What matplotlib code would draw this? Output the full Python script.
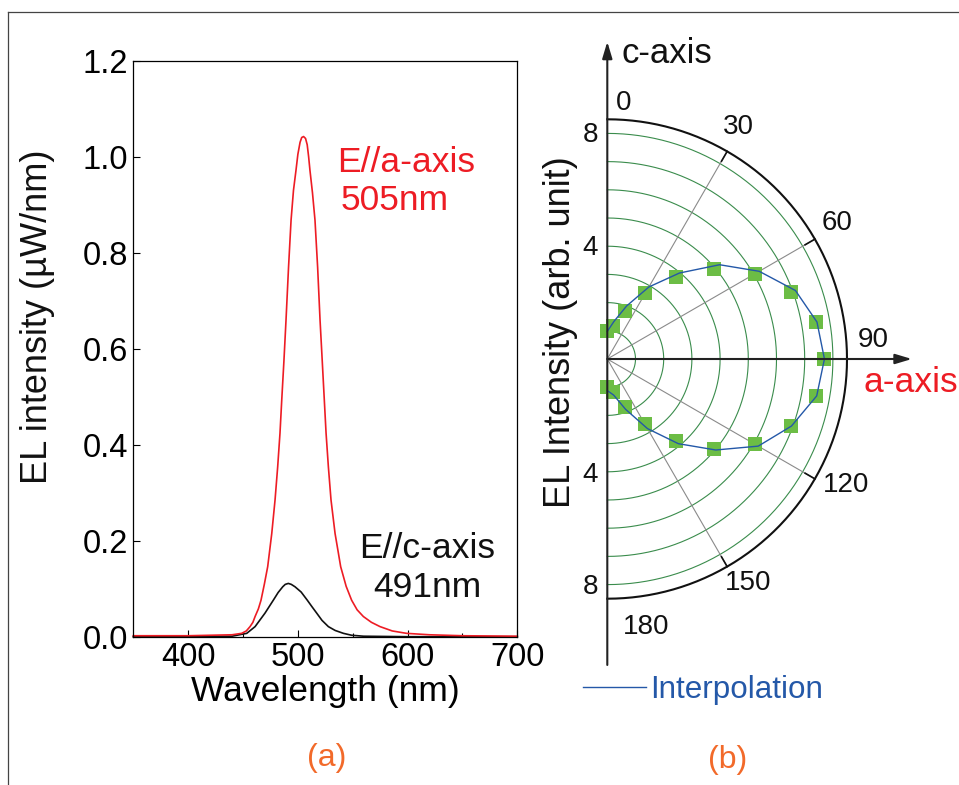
import matplotlib

matplotlib.use("Agg")
import matplotlib.pyplot as plt
import numpy as np
from matplotlib.lines import Line2D

plt.rcParams['font.family'] = ['Liberation Sans', 'DejaVu Sans']

# (a) EL spectra
wl_a_axis = [350, 400, 440, 448.8, 453.0, 456.4, 459.0, 461.0, 464.0, 466.4, 469.5,
             472.5, 476.2, 479.2, 481.6, 483.7, 485.3, 487.3, 489.2, 491.5, 493.8,
             496.0, 498.3, 500.0, 502.0, 503.5, 505.2, 507.0, 508.5, 509.8, 511.0,
             513.3, 515.6, 518.0, 520.2, 522.2, 524.1, 525.7, 527.8, 530.2, 533.9,
             536.5, 539.0, 544.0, 549.0, 554.0, 559.7, 567.0, 574.9, 586.0, 599.0,
             620.0, 650, 700]
el_a_axis = [0.002, 0.002, 0.004, 0.007, 0.012, 0.021, 0.030, 0.042, 0.058, 0.076, 0.110,
             0.146, 0.215, 0.285, 0.354, 0.424, 0.493, 0.575, 0.660, 0.770, 0.868,
             0.930, 0.972, 1.005, 1.030, 1.040, 1.042, 1.038, 1.025, 1.000, 0.972,
             0.925, 0.868, 0.770, 0.660, 0.575, 0.493, 0.424, 0.354, 0.285, 0.215,
             0.180, 0.146, 0.105, 0.076, 0.056, 0.042, 0.030, 0.021, 0.012, 0.007,
             0.004, 0.002, 0.001]
wl_c_axis = [350, 440, 453.4, 461.0, 470.0, 477.6, 482.0, 486.2, 488.5, 491.3, 494.0,
             497.4, 503.0, 508.6, 513.0, 517.2, 522.0, 527.8, 534.0, 541.5, 549.0,
             560, 600, 700]
el_c_axis = [0.0, 0.001, 0.007, 0.021, 0.049, 0.076, 0.092, 0.104, 0.109, 0.111, 0.109,
             0.104, 0.093, 0.076, 0.062, 0.049, 0.034, 0.021, 0.013, 0.007, 0.003,
             0.001, 0.0, 0.0]

x_ticks = [400, 500, 600, 700]
x_minor = [450, 550, 650]
y_ticks = [0.0, 0.2, 0.4, 0.6, 0.8, 1.0, 1.2]

# (b) polar dependence of EL intensity
angles = [0, 10, 20, 30, 40, 50, 60, 70, 80, 90,
          100, 110, 120, 130, 140, 150, 160, 170, 180]
el_points = [1.0, 1.2, 1.8, 2.7, 3.8, 4.95, 6.04, 6.92, 7.5, 7.7,
             7.5, 6.93, 6.04, 4.96, 3.8, 2.68, 1.8, 1.2, 1.0]
el_interp = [0.98, 1.35, 2.0, 2.95, 3.98, 5.2, 6.22, 7.1, 7.55, 7.7,
             7.54, 6.95, 6.18, 5.02, 3.92, 2.85, 1.9, 1.3, 1.12]
ring_radii = [1, 2, 3, 4, 5, 6, 7, 8]
spoke_angles = [30, 60, 120, 150]
angle_labels = ['0', '30', '60', '90', '120', '150', '180']
radial_labels = [4, 8]

RED = '#ed1c24'
ORANGE = '#f26a2a'
GREEN = '#6cbd45'
RING = '#3a8c4c'
BLUE = '#2458a8'

fig = plt.figure(figsize=(9.59, 7.85), dpi=100)
W, H = 959, 785


def px(x, y):
    return x / W, 1 - y / H


# outer frame
fig.add_artist(Line2D([8 / W, 8 / W], [0, 1 - 12 / H], color='#444444', lw=0.9))
fig.add_artist(Line2D([8 / W, 1], [1 - 12 / H, 1 - 12 / H], color='#444444', lw=0.9))

# ---- (a) spectra ----
ax = fig.add_axes([133.3 / W, 1 - 636.7 / H, 384 / W, 576 / H])
ax.plot(wl_c_axis, el_c_axis, color='#111111', lw=1.2, clip_on=False)
ax.plot(wl_a_axis, el_a_axis, color=RED, lw=1.2, clip_on=False)
ax.set_xlim(350, 700)
ax.set_ylim(0, 1.2)
ax.set_xticks(x_ticks)
ax.set_xticks(x_minor, minor=True)
ax.set_yticks(y_ticks)
ax.set_yticklabels([f"{v:.1f}" for v in y_ticks])
ax.tick_params(which='both', direction='in', width=0.8, labelsize=23.5, pad=3.5,
               top=False, right=False)
ax.tick_params(which='major', length=5)
ax.tick_params(which='minor', length=3)
for s in ax.spines.values():
    s.set_linewidth(0.9)
ax.set_xlabel('Wavelength (nm)', fontsize=25.5, labelpad=2)

ax.text(535.7, 0.968, 'E//a-axis', color=RED, fontsize=25.5, ha='left', va='baseline')
ax.text(539.3, 0.889, '505nm', color=RED, fontsize=25.5, ha='left', va='baseline')
ax.text(617.6, 0.164, 'E//c-axis', color='#111111', fontsize=25.5, ha='center', va='baseline')
ax.text(617.6, 0.083, '491nm', color='#111111', fontsize=25.5, ha='center', va='baseline')

fig.text(*px(38, 317), 'EL intensity (\u00b5W/nm)', rotation=90, fontsize=26,
         ha='center', va='center', color='#111111')
fig.text(*px(326.5, 758), '(a)', color=ORANGE, fontsize=23, ha='center', va='center')

# ---- (b) polar plot ----
cx, cy, unit = 607.3, 359.0, 28.2
x0, x1, y0, y1 = 545, 959, 15, 730
axp = fig.add_axes([x0 / W, 1 - y1 / H, (x1 - x0) / W, (y1 - y0) / H])
axp.set_xlim((x0 - cx) / unit, (x1 - cx) / unit)
axp.set_ylim((cy - y1) / unit, (cy - y0) / unit)
axp.axis('off')

th = np.radians(np.linspace(0, 180, 361))
for r in ring_radii:
    axp.plot(r * np.sin(th), r * np.cos(th), color=RING, lw=0.8, zorder=1)
axp.plot(8.5 * np.sin(th), 8.5 * np.cos(th), color='#111111', lw=1.5, zorder=2)
for a in spoke_angles:
    t = np.radians(a)
    axp.plot([0, 8.5 * np.sin(t)], [0, 8.5 * np.cos(t)], color='#8a8a8a', lw=0.8, zorder=1)
    axp.plot([8.1 * np.sin(t), 8.5 * np.sin(t)], [8.1 * np.cos(t), 8.5 * np.cos(t)],
             color='#111111', lw=1.2, zorder=2)

arrow = dict(arrowstyle='-|>,head_length=0.5,head_width=0.15', lw=1.5, color='#222222',
             mutation_scale=20, shrinkA=0, shrinkB=0)
axp.annotate('', xy=(10.8, 0), xytext=(0, 0), arrowprops=arrow, zorder=4)
axp.annotate('', xy=(0, 11.25), xytext=(0, -10.85), arrowprops=arrow, zorder=4)

t_pts = np.radians(angles)
axp.plot(np.array(el_points) * np.sin(t_pts), np.array(el_points) * np.cos(t_pts), 's',
         color=GREEN, ms=9.6, mew=0, zorder=3)
axp.plot(np.array(el_interp) * np.sin(t_pts), np.array(el_interp) * np.cos(t_pts),
         color=BLUE, lw=1.0, zorder=3.5)

angle_label_xy = [(0.57, 9.08), (4.66, 8.24), (8.16, 4.82), (9.44, 0.67),
                  (8.46, -4.47), (4.99, -7.93), (1.37, -9.5)]
for lab, (lx, ly) in zip(angle_labels, angle_label_xy):
    axp.text(lx, ly, lab, fontsize=20, ha='center', va='center', color='#111111')
for r in radial_labels:
    axp.text(-0.6, r - 0.05, str(r), fontsize=20, ha='center', va='center', color='#111111')
    axp.text(-0.6, -r - 0.1, str(r), fontsize=20, ha='center', va='center', color='#111111')

axp.text(0.51, 10.51, 'c-axis', fontsize=25, ha='left', va='baseline', color='#111111')
axp.text(9.07, -1.16, 'a-axis', fontsize=25.5, ha='left', va='baseline', color=RED)

fig.text(*px(561, 332), 'EL Intensity (arb. unit)', rotation=90, fontsize=26,
         ha='center', va='center', color='#111111')

interp_handle = Line2D([], [], color=BLUE, lw=1.0)
fig.legend([interp_handle], ['Interpolation'], loc='center left',
           bbox_to_anchor=px(583, 690), frameon=False, borderpad=0, borderaxespad=0,
           handlelength=2.0, handletextpad=0.15, fontsize=22.6, labelcolor=BLUE)
fig.text(*px(728, 760), '(b)', color=ORANGE, fontsize=23, ha='center', va='center')

fig.savefig('out.png', dpi=100)
